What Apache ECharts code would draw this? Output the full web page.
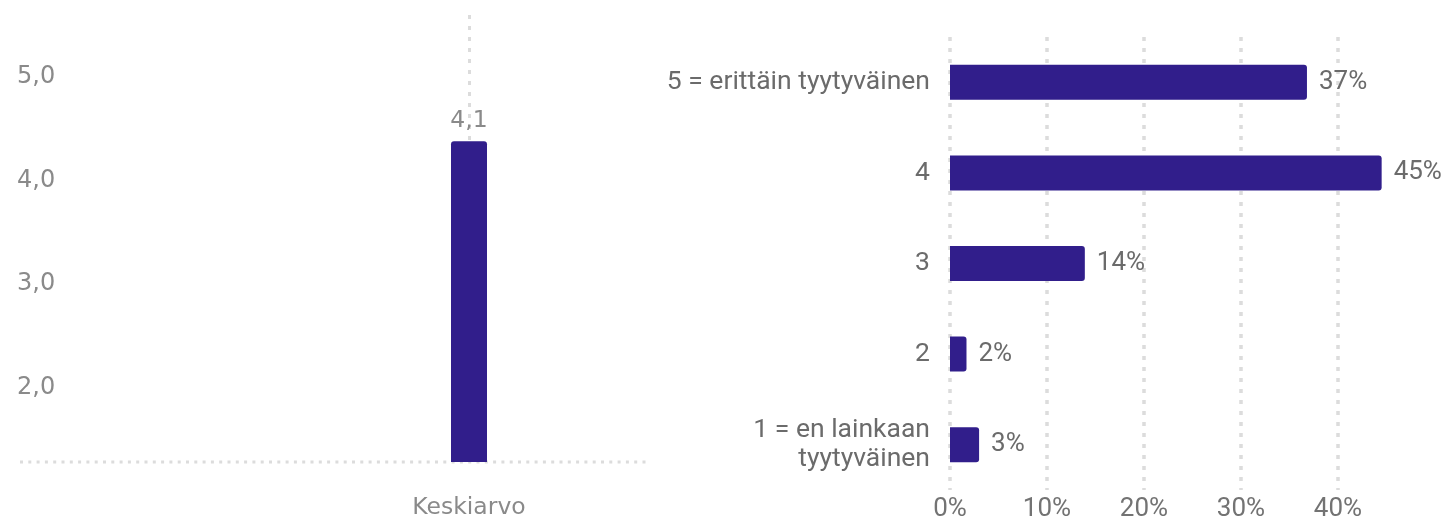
<!DOCTYPE html>
<html>
<head>
    <meta charset="UTF-8">
    <style>
        html, body { margin: 0; padding: 0; background: #fff; }
        #container { width: 1450px; height: 519px; }
    </style>
</head>
<body>
<div id="container"></div>

<script src="https://cdn.jsdelivr.net/npm/echarts@6.0.0/dist/echarts.min.js"></script>
<script type="text/javascript">
    // vasen kaavio: keskiarvo
    var avgCategories = ['Keskiarvo'];
    var avgValues = [4.1];
    var avgTicks = [2, 3, 4, 5];

    // oikea kaavio: vastausten jakauma (%)
    var distCategories = ['5 = erittäin tyytyväinen', '4', '3', '2', '1 = en lainkaan\ntyytyväinen'];
    var distValues = [36.8, 44.5, 13.9, 1.7, 3.0];
    var pctTicks = [0, 10, 20, 30, 40];

    var barColor = '#311e8b';
    var dotColor = '#dcdcdc';

    var dom = document.getElementById('container');
    var myChart = echarts.init(dom, null, { renderer: 'canvas' });

    var option = {
        animation: false,
        backgroundColor: '#fff',
        grid: [
            { left: 288, top: 15, width: 362, bottom: 57, outerBoundsMode: 'none' },
            { left: 950, top: 37, width: 436.5, bottom: 29, outerBoundsMode: 'none' }
        ],
        xAxis: [
            {
                gridIndex: 0,
                type: 'category',
                data: avgCategories,
                axisLine: { show: false },
                axisTick: { show: false },
                axisLabel: {
                    margin: 34,
                    color: '#8a8a8a',
                    fontFamily: 'DejaVu Sans',
                    fontSize: 23.5
                },
                splitLine: {
                    show: true,
                    alignWithLabel: true,
                    lineStyle: { color: dotColor, width: 3, type: [4, 7] }
                }
            },
            {
                gridIndex: 1,
                type: 'value',
                min: 0,
                max: 45,
                interval: 10,
                axisLine: { show: false },
                axisTick: { show: false },
                axisLabel: {
                    margin: 6,
                    color: '#737373',
                    fontFamily: 'Roboto',
                    fontSize: 26,
                    formatter: function (v) {
                        return pctTicks.indexOf(v) >= 0 ? v + '%' : '';
                    }
                },
                splitLine: {
                    show: true,
                    lineStyle: {
                        // viimeinen (45) piiloon
                        color: pctTicks.map(function () { return dotColor; }).concat(['rgba(0,0,0,0)']),
                        width: 3.5,
                        type: [4, 7]
                    }
                }
            }
        ],
        yAxis: [
            {
                gridIndex: 0,
                type: 'value',
                min: 1,
                max: 5.32,
                interval: 1,
                axisLine: { show: false },
                axisTick: { show: false },
                splitLine: { show: false },
                axisLabel: {
                    margin: 271,
                    align: 'left',
                    verticalAlign: 'top',
                    padding: [17, 0, 0, 0],
                    color: '#8a8a8a',
                    fontFamily: 'DejaVu Sans',
                    fontSize: 24,
                    formatter: function (v) {
                        return avgTicks.indexOf(v) >= 0 ? v.toFixed(1).replace('.', ',') : '';
                    }
                }
            },
            {
                gridIndex: 1,
                type: 'category',
                inverse: true,
                data: distCategories,
                axisLine: { show: false },
                axisTick: { show: false },
                axisLabel: {
                    margin: 20,
                    color: '#6b6b6b',
                    fontFamily: 'Roboto',
                    fontSize: 26.5,
                    lineHeight: 29
                }
            }
        ],
        series: [
            {
                type: 'bar',
                xAxisIndex: 0,
                yAxisIndex: 0,
                data: avgValues,
                barWidth: 36,
                itemStyle: { color: barColor, borderRadius: [3, 3, 0, 0] },
                label: {
                    show: true,
                    position: 'top',
                    distance: 8,
                    color: '#8a8a8a',
                    fontFamily: 'DejaVu Sans',
                    fontSize: 23.5,
                    formatter: function (p) {
                        return p.value.toFixed(1).replace('.', ',');
                    }
                }
            },
            {
                type: 'bar',
                xAxisIndex: 1,
                yAxisIndex: 1,
                data: distValues,
                barWidth: 35,
                itemStyle: { color: barColor, borderRadius: [0, 3, 3, 0] },
                label: {
                    show: true,
                    position: 'right',
                    distance: 12,
                    color: '#6b6b6b',
                    fontFamily: 'Roboto',
                    fontSize: 26,
                    formatter: function (p) {
                        return Math.round(p.value) + '%';
                    }
                }
            }
        ],
        graphic: [
            {
                // katkoviivainen pohjaviiva, ulottuu arvoakselin tekstien alle
                type: 'line',
                z: 0,
                shape: { x1: 20, y1: 462, x2: 650, y2: 462 },
                style: { stroke: dotColor, lineWidth: 3, lineDash: [3, 5.3] },
                silent: true
            }
        ]
    };

    myChart.setOption(option);
    window.addEventListener('resize', myChart.resize);
</script>
</body>
</html>
